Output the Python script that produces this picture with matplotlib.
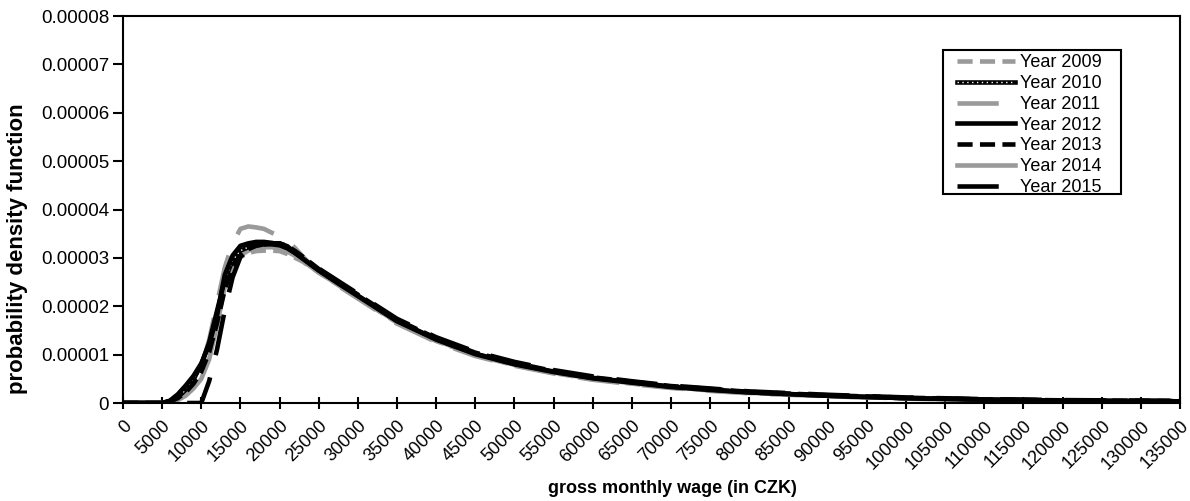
import matplotlib
matplotlib.use("Agg")
import matplotlib.pyplot as plt
from matplotlib.lines import Line2D
from matplotlib.patches import Rectangle

plt.rcParams["font.family"] = ["Liberation Sans", "DejaVu Sans"]

# wage grid (CZK) and densities in units of 1e-5
wage = [0, 5000, 6000, 7000, 8000, 9000, 10000, 11000, 12000, 13000, 14000,
        15000, 16000, 17000, 18000, 19000, 20000, 21000, 22000, 23000, 25000,
        27500, 30000, 35000, 40000, 45000, 50000, 55000, 60000, 65000, 70000,
        75000, 80000, 90000, 100000, 110000, 120000, 135000]

pdf_2009 = [0, 0, 0.03, 0.10, 0.25, 0.45, 0.75, 1.20, 1.85, 2.45, 2.85,
            3.02, 3.10, 3.14, 3.15, 3.15, 3.14, 3.08, 3.00, 2.92, 2.70,
            2.44, 2.18, 1.66, 1.28, 0.99, 0.78, 0.62, 0.49, 0.40, 0.32,
            0.26, 0.21, 0.14, 0.095, 0.065, 0.045, 0.03]
pdf_2010 = [0, 0, 0.04, 0.12, 0.27, 0.48, 0.80, 1.25, 1.90, 2.55, 2.95,
            3.15, 3.22, 3.26, 3.28, 3.28, 3.26, 3.20, 3.10, 2.98, 2.74,
            2.47, 2.21, 1.69, 1.31, 1.01, 0.80, 0.64, 0.51, 0.42, 0.33,
            0.27, 0.22, 0.15, 0.10, 0.07, 0.05, 0.03]
pdf_2011 = [0, 0, 0.03, 0.08, 0.20, 0.40, 0.75, 1.30, 2.05, 2.80, 3.30,
            3.60, 3.65, 3.63, 3.60, 3.52, 3.45, 3.36, 3.20, 3.02, 2.70,
            2.42, 2.16, 1.64, 1.26, 0.97, 0.77, 0.61, 0.48, 0.39, 0.31,
            0.25, 0.20, 0.14, 0.09, 0.06, 0.045, 0.03]
pdf_2012 = [0, 0, 0.05, 0.18, 0.36, 0.56, 0.82, 1.20, 1.80, 2.65, 3.05,
            3.25, 3.30, 3.33, 3.33, 3.31, 3.28, 3.20, 3.10, 2.98, 2.74,
            2.48, 2.22, 1.70, 1.32, 1.02, 0.81, 0.65, 0.52, 0.43, 0.34,
            0.28, 0.22, 0.15, 0.10, 0.07, 0.05, 0.035]
pdf_2013 = [0, 0, 0.03, 0.10, 0.22, 0.40, 0.65, 1.05, 1.65, 2.35, 2.80,
            3.05, 3.18, 3.25, 3.28, 3.30, 3.30, 3.24, 3.14, 3.02, 2.77,
            2.50, 2.24, 1.72, 1.34, 1.04, 0.83, 0.66, 0.53, 0.44, 0.35,
            0.29, 0.23, 0.16, 0.11, 0.075, 0.055, 0.04]
pdf_2014 = [0, 0, 0.02, 0.06, 0.15, 0.30, 0.50, 0.90, 1.60, 2.40, 2.85,
            3.05, 3.15, 3.20, 3.22, 3.22, 3.20, 3.13, 3.04, 2.93, 2.70,
            2.44, 2.18, 1.67, 1.29, 1.00, 0.79, 0.63, 0.50, 0.41, 0.33,
            0.27, 0.21, 0.15, 0.10, 0.07, 0.05, 0.035]
pdf_2015 = [0, 0, 0, 0, 0, 0, 0, 0.45, 1.10, 1.92, 2.60,
            3.02, 3.17, 3.24, 3.28, 3.30, 3.30, 3.24, 3.10, 3.00, 2.78,
            2.52, 2.26, 1.74, 1.36, 1.06, 0.85, 0.68, 0.55, 0.45, 0.36,
            0.30, 0.24, 0.17, 0.115, 0.08, 0.06, 0.045]

years = ["Year 2009", "Year 2010", "Year 2011", "Year 2012",
         "Year 2013", "Year 2014", "Year 2015"]

SCALE = 1e-5
GRAY = "#9a9a9a"
LW = 3.3
SHORT = (3.3, 1.6)
LONG = (9, 5)


def dens(vals):
    return [v * SCALE for v in vals]


fig = plt.figure(figsize=(11.9, 5.01), dpi=100)
ax = fig.add_axes([123 / 1190, 98 / 501, 1057 / 1190, 387 / 501])

ax.plot(wage, dens(pdf_2009), color=GRAY, lw=LW, dashes=SHORT, zorder=2)
# shifted dash phase so the peak of 2011 stays drawn
ax.plot(wage, dens(pdf_2011), color=GRAY, lw=LW, ls=(5, LONG), zorder=2)
ax.plot(wage, dens(pdf_2014), color=GRAY, lw=LW, zorder=2)
ax.plot(wage, dens(pdf_2010), color="black", lw=LW, zorder=3)
ax.plot(wage, dens(pdf_2010), color="white", lw=1.0, dashes=(1, 2.5), zorder=3)
ax.plot(wage, dens(pdf_2012), color="black", lw=LW, zorder=3)
ax.plot(wage, dens(pdf_2013), color="black", lw=LW, dashes=SHORT, zorder=3)
ax.plot(wage, dens(pdf_2015), color="black", lw=LW, dashes=LONG, zorder=4)

ax.set_xlim(0, 135000)
ax.set_ylim(0, 0.00008)
ax.set_xticks(range(0, 135001, 5000))
ax.set_xticklabels([str(t) for t in range(0, 135001, 5000)],
                   rotation=45, ha="right", rotation_mode="anchor")
yt = [i * 0.00001 for i in range(9)]
ax.set_yticks(yt)
ax.set_yticklabels(["0"] + ["%.5f" % v for v in yt[1:]])

for s in ax.spines.values():
    s.set_linewidth(1.5)
ax.tick_params(axis="x", direction="inout", length=9, width=1.5,
               labelsize=13, pad=6)
ax.tick_params(axis="y", direction="out", length=7, width=1.5,
               labelsize=13.5, pad=3)

ax.set_xlabel("gross monthly wage (in CZK)", fontsize=13, fontweight="bold")
ax.xaxis.set_label_coords(0.52, -0.2)
ax.set_ylabel("probability density function", fontsize=16, fontweight="bold")
ax.yaxis.set_label_coords(-0.09, 0.40)

# legend handles
hl = [
    Line2D([], [], color=GRAY, lw=LW, dashes=SHORT),
    (Line2D([], [], color="black", lw=LW),
     Line2D([], [], color="white", lw=1.0, dashes=(1, 2.5))),
    Line2D([], [], color=GRAY, lw=LW, dashes=LONG),
    Line2D([], [], color="black", lw=LW),
    Line2D([], [], color="black", lw=LW, dashes=SHORT),
    Line2D([], [], color=GRAY, lw=LW),
    Line2D([], [], color="black", lw=LW, dashes=LONG),
]

# legend box drawn separately, entries placed inside it
ax.add_patch(Rectangle((0.7758, 0.540), 0.1684, 0.372, transform=ax.transAxes,
                       facecolor="white", edgecolor="black", lw=1.5, zorder=5))
leg = ax.legend(hl, years, loc="upper left", bbox_to_anchor=(0.789, 0.901),
                fontsize=13, frameon=False, handlelength=3.2,
                handletextpad=0.28, labelspacing=0.21, borderpad=0,
                borderaxespad=0)
leg.set_zorder(6)

fig.savefig("out.png", dpi=100)
